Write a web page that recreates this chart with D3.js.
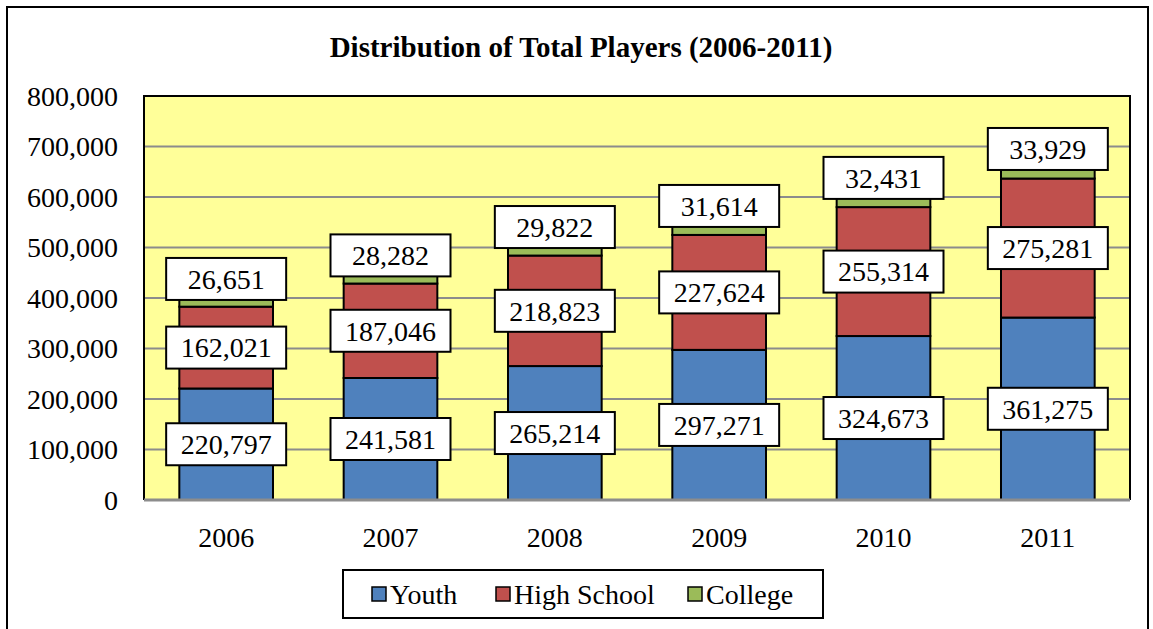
<!DOCTYPE html>
<html>
<head>
<meta charset="utf-8">
<script src="https://cdn.jsdelivr.net/npm/d3@7"></script>
<style>
  body { margin: 0; background: #fff; }
  svg text { font-family: "Liberation Serif", "Times New Roman", serif; fill: #000; }
</style>
</head>
<body>
<div id="chart"></div>
<script>
// data
const years = ["2006", "2007", "2008", "2009", "2010", "2011"];
const youth = [220797, 241581, 265214, 297271, 324673, 361275];
const highSchool = [162021, 187046, 218823, 227624, 255314, 275281];
const college = [26651, 28282, 29822, 31614, 32431, 33929];
const seriesNames = ["Youth", "High School", "College"];
const seriesColors = ["#4F81BD", "#C0504D", "#9BBB59"];
const yTicks = [0, 100000, 200000, 300000, 400000, 500000, 600000, 700000, 800000];

const width = 1153, height = 629;
const plot = { left: 144, right: 1130, top: 96, bottom: 500 };

const svg = d3.select("#chart").append("svg")
    .attr("width", width)
    .attr("height", height);

// outer frame
svg.append("rect")
    .attr("x", 7).attr("y", 7)
    .attr("width", 1141).attr("height", 640)
    .attr("fill", "#fff")
    .attr("stroke", "#000")
    .attr("stroke-width", 2);

svg.append("text")
    .attr("x", 581).attr("y", 57)
    .attr("text-anchor", "middle")
    .style("font-size", "29px")
    .style("font-weight", "bold")
    .text("Distribution of Total Players (2006-2011)");

const x = d3.scaleBand().domain(years).range([plot.left, plot.right]).paddingInner(0.43).paddingOuter(0.215);
const y = d3.scaleLinear().domain([0, 800000]).range([plot.bottom, plot.top]);

// plot background
svg.append("rect")
    .attr("x", plot.left).attr("y", plot.top)
    .attr("width", plot.right - plot.left).attr("height", plot.bottom - plot.top)
    .attr("fill", "#FFFF99");

// gridlines
svg.append("g").selectAll("line")
    .data(yTicks).enter()
    .append("line")
    .attr("x1", plot.left).attr("x2", plot.right)
    .attr("y1", d => y(d)).attr("y2", d => y(d))
    .attr("stroke", "#8c8c8c")
    .attr("stroke-width", 2);

// y axis labels
svg.append("g").selectAll("text")
    .data(yTicks).enter()
    .append("text")
    .attr("x", 118)
    .attr("y", d => y(d))
    .attr("dy", "0.35em")
    .attr("text-anchor", "end")
    .style("font-size", "28px")
    .text(d => d3.format(",")(d));

// stacked bars
const rows = years.map((yr, i) => ({ year: yr, Youth: youth[i], "High School": highSchool[i], College: college[i] }));
const stack = d3.stack().keys(seriesNames)(rows);

const layers = svg.append("g").selectAll("g")
    .data(stack).enter()
    .append("g")
    .attr("fill", (d, i) => seriesColors[i]);

layers.selectAll("rect")
    .data(d => d).enter()
    .append("rect")
    .attr("x", d => x(d.data.year))
    .attr("width", x.bandwidth())
    .attr("y", d => y(d[1]))
    .attr("height", d => y(d[0]) - y(d[1]))
    .attr("stroke", "#000")
    .attr("stroke-width", 2);

// plot frame (bottom edge is the grey axis line)
svg.append("path")
    .attr("d", `M${plot.left},${plot.bottom}V${plot.top}H${plot.right}V${plot.bottom}`)
    .attr("fill", "none")
    .attr("stroke", "#000")
    .attr("stroke-width", 2);
svg.append("line")
    .attr("x1", plot.left).attr("x2", plot.right)
    .attr("y1", plot.bottom).attr("y2", plot.bottom)
    .attr("stroke", "#8c8c8c")
    .attr("stroke-width", 3);

// value labels in white boxes
const boxW = 120, boxH = 42;
stack.forEach((layer, li) => {
    const g = svg.append("g");
    layer.forEach(d => {
        const cx = x(d.data.year) + x.bandwidth() / 2;
        let cy = y((d[0] + d[1]) / 2);
        if (li === 2) cy -= boxH / 2; // top labels sit above the thin segment
        g.append("rect")
            .attr("x", cx - boxW / 2).attr("y", cy - boxH / 2)
            .attr("width", boxW).attr("height", boxH)
            .attr("fill", "#fff")
            .attr("stroke", "#000")
            .attr("stroke-width", 2);
        g.append("text")
            .attr("x", cx).attr("y", cy)
            .attr("dy", "0.35em")
            .attr("text-anchor", "middle")
            .style("font-size", "28px")
            .text(d3.format(",")(d[1] - d[0]));
    });
});

// x axis labels
svg.append("g").selectAll("text")
    .data(years).enter()
    .append("text")
    .attr("x", d => x(d) + x.bandwidth() / 2)
    .attr("y", 537)
    .attr("dy", "0.35em")
    .attr("text-anchor", "middle")
    .style("font-size", "28px")
    .text(d => d);

// legend
const legend = svg.append("g");
legend.append("rect")
    .attr("x", 343).attr("y", 570)
    .attr("width", 480).attr("height", 48)
    .attr("fill", "#fff")
    .attr("stroke", "#000")
    .attr("stroke-width", 2);
const legendX = [372, 496, 688];
seriesNames.forEach((name, i) => {
    legend.append("rect")
        .attr("x", legendX[i]).attr("y", 587)
        .attr("width", 14).attr("height", 14)
        .attr("fill", seriesColors[i])
        .attr("stroke", "#000")
        .attr("stroke-width", 1.5);
    legend.append("text")
        .attr("x", legendX[i] + 18).attr("y", 594)
        .attr("dy", "0.35em")
        .style("font-size", "28px")
        .text(name);
});
</script>
</body>
</html>
